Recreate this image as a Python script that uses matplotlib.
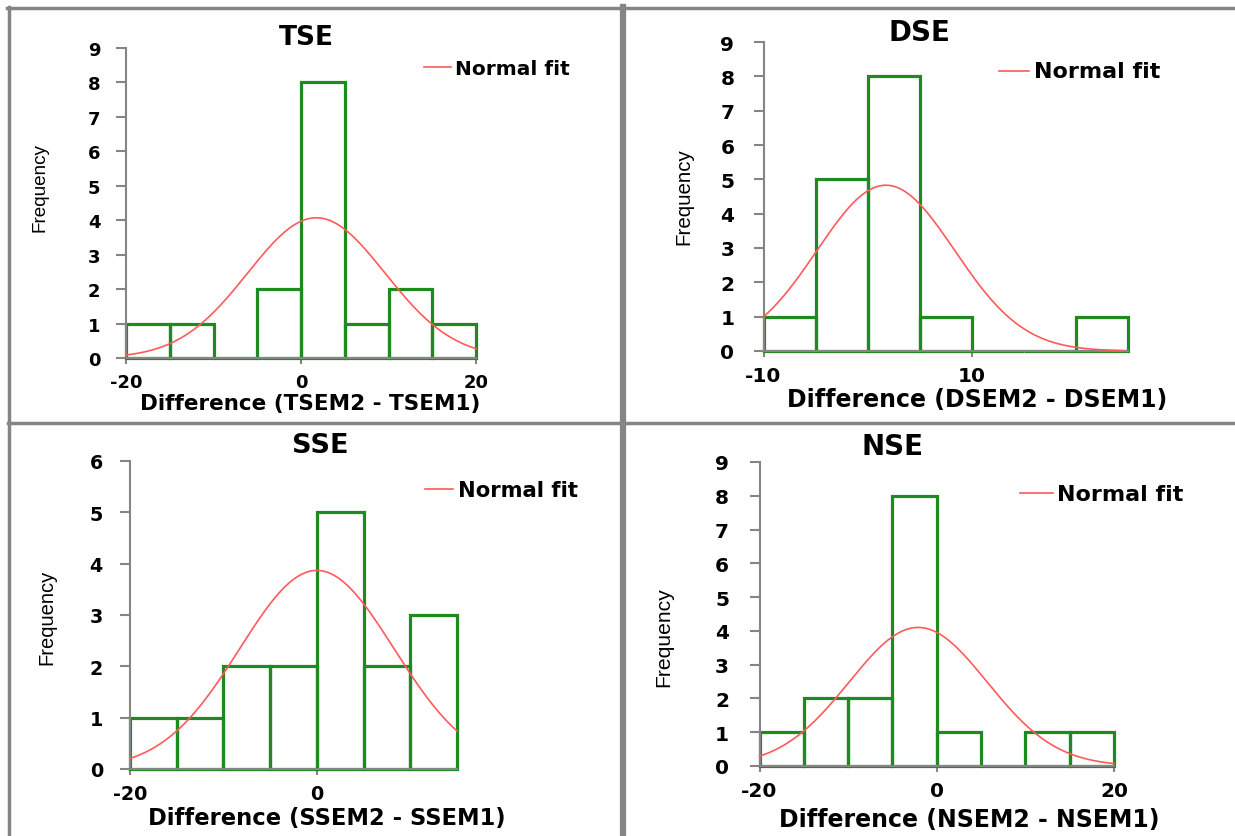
import numpy as np
import matplotlib
matplotlib.use("Agg")
import matplotlib.pyplot as plt
from matplotlib.lines import Line2D

plt.rcParams['font.family'] = ['DejaVu Sans']
plt.rcParams['axes.unicode_minus'] = False

# ---------------- data ----------------
bin_width = 5
n_obs = 16

tse_edges = [-20, -15, -10, -5, 0, 5, 10, 15]
tse_counts = [1, 1, 0, 2, 8, 1, 2, 1]
tse_mean, tse_sd = 1.75, 7.84

dse_edges = [-10, -5, 0, 5, 10, 15, 20]
dse_counts = [1, 5, 8, 1, 0, 0, 1]
dse_mean, dse_sd = 1.75, 6.61

sse_edges = [-20, -15, -10, -5, 0, 5, 10]
sse_counts = [1, 1, 2, 2, 5, 2, 3]
sse_mean, sse_sd = 0.0, 8.25

nse_edges = [-20, -15, -10, -5, 0, 5, 10, 15]
nse_counts = [1, 2, 2, 8, 1, 0, 1, 1]
nse_mean, nse_sd = -2.1, 7.78

W, H = 1235, 837
fig = plt.figure(figsize=(W / 100, H / 100), dpi=100)


def fx(px):
    return px / W


def fy(py):
    return 1 - py / H


GREEN = '#1f8a1f'
RED = '#ff5a5a'
GRAY = '#858585'

panels = [
    dict(edges=tse_edges, counts=tse_counts, mean=tse_mean, sd=tse_sd,
         box=(126, 476, 49, 359), xlim=(-20, 20), xticks=[-20, 0, 20],
         ylim=9, curve=(-20, 20),
         title='TSE', title_xy=(306, 45), title_fs=19,
         xlabel='Difference (TSEM2 - TSEM1)', xlabel_xy=(310, 410), xlabel_fs=15.5,
         ylabel_xy=(40, 188), ylabel_fs=13.6,
         leg_line=(424, 451, 68), leg_text=(455, 75), leg_fs=14.5,
         tick_fs=13, ypad=11.5),
    dict(edges=dse_edges, counts=dse_counts, mean=dse_mean, sd=dse_sd,
         box=(763.5, 1128, 43, 352), xlim=(-10, 25), xticks=[-10, 10],
         ylim=9, curve=(-10, 24.5),
         title='DSE', title_xy=(919, 41), title_fs=20,
         xlabel='Difference (DSEM2 - DSEM1)', xlabel_xy=(977, 407), xlabel_fs=17,
         ylabel_xy=(684, 197), ylabel_fs=14.8,
         leg_line=(999, 1029, 72), leg_text=(1034, 78), leg_fs=16,
         tick_fs=14.5, ypad=14),
    dict(edges=sse_edges, counts=sse_counts, mean=sse_mean, sd=sse_sd,
         box=(130, 457, 462, 770), xlim=(-20, 15), xticks=[-20, 0],
         ylim=6, curve=(-20, 15),
         title='SSE', title_xy=(320, 453), title_fs=19.5,
         xlabel='Difference (SSEM2 - SSEM1)', xlabel_xy=(327, 825), xlabel_fs=16.3,
         ylabel_xy=(47, 617), ylabel_fs=14.5,
         leg_line=(425, 453, 490), leg_text=(458, 497), leg_fs=15.2,
         tick_fs=13.8, ypad=12.5),
    dict(edges=nse_edges, counts=nse_counts, mean=nse_mean, sd=nse_sd,
         box=(759.5, 1114, 463, 767), xlim=(-20, 20), xticks=[-20, 0, 20],
         ylim=9, curve=(-20, 20),
         title='NSE', title_xy=(893, 455), title_fs=20,
         xlabel='Difference (NSEM2 - NSEM1)', xlabel_xy=(969, 827), xlabel_fs=17,
         ylabel_xy=(664, 637), ylabel_fs=15.2,
         leg_line=(1020, 1053, 494), leg_text=(1057, 501), leg_fs=16,
         tick_fs=14.5, ypad=15),
]

for p in panels:
    x0, x1, y0, y1 = p['box']
    ax = fig.add_axes([fx(x0), fy(y1), fx(x1 - x0), (y1 - y0) / H])
    ax.bar(p['edges'], p['counts'], width=bin_width, align='edge',
           fill=False, edgecolor=GREEN, linewidth=2.3, zorder=2,
           clip_on=False)
    xs = np.linspace(p['curve'][0], p['curve'][1], 300)
    ys = n_obs * bin_width / (p['sd'] * np.sqrt(2 * np.pi)) * \
        np.exp(-0.5 * ((xs - p['mean']) / p['sd']) ** 2)
    ax.plot(xs, ys, color=RED, linewidth=1.2, zorder=3, clip_on=False)
    ax.set_xlim(*p['xlim'])
    ax.set_ylim(0, p['ylim'])
    ax.set_xticks(p['xticks'])
    ax.set_yticks(range(0, p['ylim'] + 1))
    for s in ['top', 'right']:
        ax.spines[s].set_visible(False)
    for s in ['left', 'bottom']:
        ax.spines[s].set_color(GRAY)
        ax.spines[s].set_linewidth(1.5)
    ax.tick_params(axis='y', colors=GRAY, length=7, width=1.5,
                   labelcolor='black', labelsize=p['tick_fs'], pad=p['ypad'])
    ax.tick_params(axis='x', colors=GRAY, length=4, width=1.5,
                   labelcolor='black', labelsize=p['tick_fs'], pad=7)
    for lab in ax.get_xticklabels() + ax.get_yticklabels():
        lab.set_fontweight('bold')
    ax.patch.set_alpha(0)

    fig.text(fx(p['title_xy'][0]), fy(p['title_xy'][1]), p['title'],
             ha='center', va='baseline', fontsize=p['title_fs'], fontweight='bold')
    fig.text(fx(p['xlabel_xy'][0]), fy(p['xlabel_xy'][1]), p['xlabel'],
             ha='center', va='baseline', fontsize=p['xlabel_fs'], fontweight='bold')
    fig.text(fx(p['ylabel_xy'][0]), fy(p['ylabel_xy'][1]), 'Frequency',
             ha='center', va='center', fontsize=p['ylabel_fs'], rotation=90,
             family=['Liberation Sans', 'DejaVu Sans'])
    la, lb, ly = p['leg_line']
    fig.add_artist(Line2D([fx(la), fx(lb)], [fy(ly), fy(ly)],
                          color=RED, linewidth=1.2))
    tx, ty = p['leg_text']
    fig.text(fx(tx), fy(ty), 'Normal fit', ha='left', va='baseline',
             fontsize=p['leg_fs'], fontweight='bold')

# panel frame lines
frame = dict(color=GRAY, linewidth=2.5)
fig.add_artist(Line2D([fx(7), fx(1235)], [fy(9), fy(9)], **frame))
fig.add_artist(Line2D([fx(8.5), fx(8.5)], [fy(8), fy(837)], **frame))
fig.add_artist(Line2D([fx(623), fx(623)], [fy(8), fy(837)], color=GRAY, linewidth=4.5))
fig.add_artist(Line2D([fx(8), fx(1235)], [fy(424), fy(424)], **frame))

fig.savefig('out.png', dpi=100)
